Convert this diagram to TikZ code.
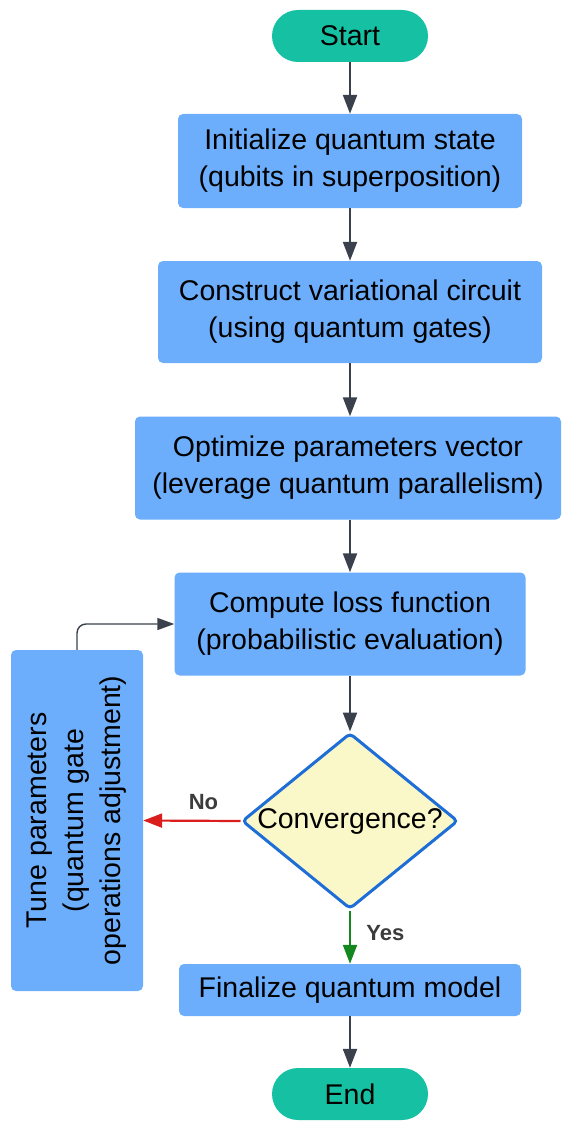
\documentclass[tikz,border=0pt]{standalone}
\usepackage{fontspec}
\setmainfont{Liberation Sans}
\usetikzlibrary{shapes.geometric,arrows.meta}

\definecolor{stepfill}{RGB}{108,174,252}
\definecolor{termfill}{RGB}{22,192,162}
\definecolor{decfill}{RGB}{250,248,200}
\definecolor{decline}{RGB}{30,110,215}
\definecolor{flowline}{RGB}{58,64,76}
\definecolor{nored}{RGB}{218,30,30}
\definecolor{yesgreen}{RGB}{20,135,30}
\definecolor{labelgray}{RGB}{60,60,60}

\tikzset{
  txt/.style={font=\fontsize{28.5}{37}\selectfont, align=center, text=black},
  stepbox/.style={txt, rectangle, rounded corners=5pt, fill=stepfill, draw=none, inner sep=0pt},
  terminal/.style={txt, rectangle, rounded corners=26pt, fill=termfill, draw=none,
                   minimum width=156pt, minimum height=52pt, inner sep=0pt},
  decision/.style={diamond, fill=decfill, draw=decline, line width=3pt, rounded corners=4pt,
                   minimum width=216pt, minimum height=176pt, inner sep=0pt},
  flow/.style={draw=flowline, line width=2.2pt, -{Triangle[length=19pt,width=14pt]}},
  branchlbl/.style={font=\bfseries\fontsize{22}{26}\selectfont, text=labelgray}
}

\begin{document}
\begin{tikzpicture}[x=1pt,y=-1pt]
  \useasboundingbox (0,0) rectangle (562,1121);

  % terminals
  \node[terminal] (start) at (350,36) {Start};
  \node[terminal] (end) at (350,1094) {End};

  % process steps
  \node[stepbox, minimum width=344pt, minimum height=94pt] (init) at (350,161)
    {Initialize quantum state\\(qubits in superposition)};
  \node[stepbox, minimum width=384pt, minimum height=102pt] (circ) at (350,312)
    {Construct variational circuit\\(using quantum gates)};
  \node[stepbox, minimum width=426pt, minimum height=103pt] (opt) at (348,468)
    {Optimize parameters vector\\(leverage quantum parallelism)};
  \node[stepbox, minimum width=351pt, minimum height=103pt] (loss) at (350,624)
    {Compute loss function\\(probabilistic evaluation)};
  \node[stepbox, minimum width=342pt, minimum height=52pt] (final) at (350,990)
    {Finalize quantum model};

  % decision
  \node[decision, label={[txt]center:Convergence?}] (conv) at (350,821) {};

  % tuning step, text set vertically
  \node[stepbox, minimum width=132pt, minimum height=341pt] (tune) at (77,820.5) {};
  \node[txt, rotate=90] (tunetext) at (tune.center)
    {Tune parameters\\(quantum gate\\operations adjustment)};

  % main flow
  \draw[flow] (start) -- (init);
  \draw[flow] (init) -- (circ);
  \draw[flow] (circ.south) -- (circ.south |- opt.north);
  \draw[flow] (opt.south -| loss.north) -- (loss.north);
  \draw[flow] (loss) -- (conv);
  \draw[flow] (final) -- (end);

  % branches
  \draw[flow, draw=nored, -{Triangle[length=19pt,width=14pt,fill=nored]}]
    (conv.west) -- (tune.east) node[branchlbl, pos=0.38, above=7pt] {No};
  \draw[flow, draw=yesgreen, -{Triangle[length=19pt,width=14pt,fill=yesgreen]}]
    (conv.south) -- (final.north) node[branchlbl, pos=0.42, right=12pt] {Yes};

  % feedback loop
  \draw[flow, line width=1.4pt, -{Triangle[length=17pt,width=12pt]}, rounded corners=9pt]
    (tune.north) -- (tune.north |- loss.west) -- (loss.west);
\end{tikzpicture}
\end{document}
